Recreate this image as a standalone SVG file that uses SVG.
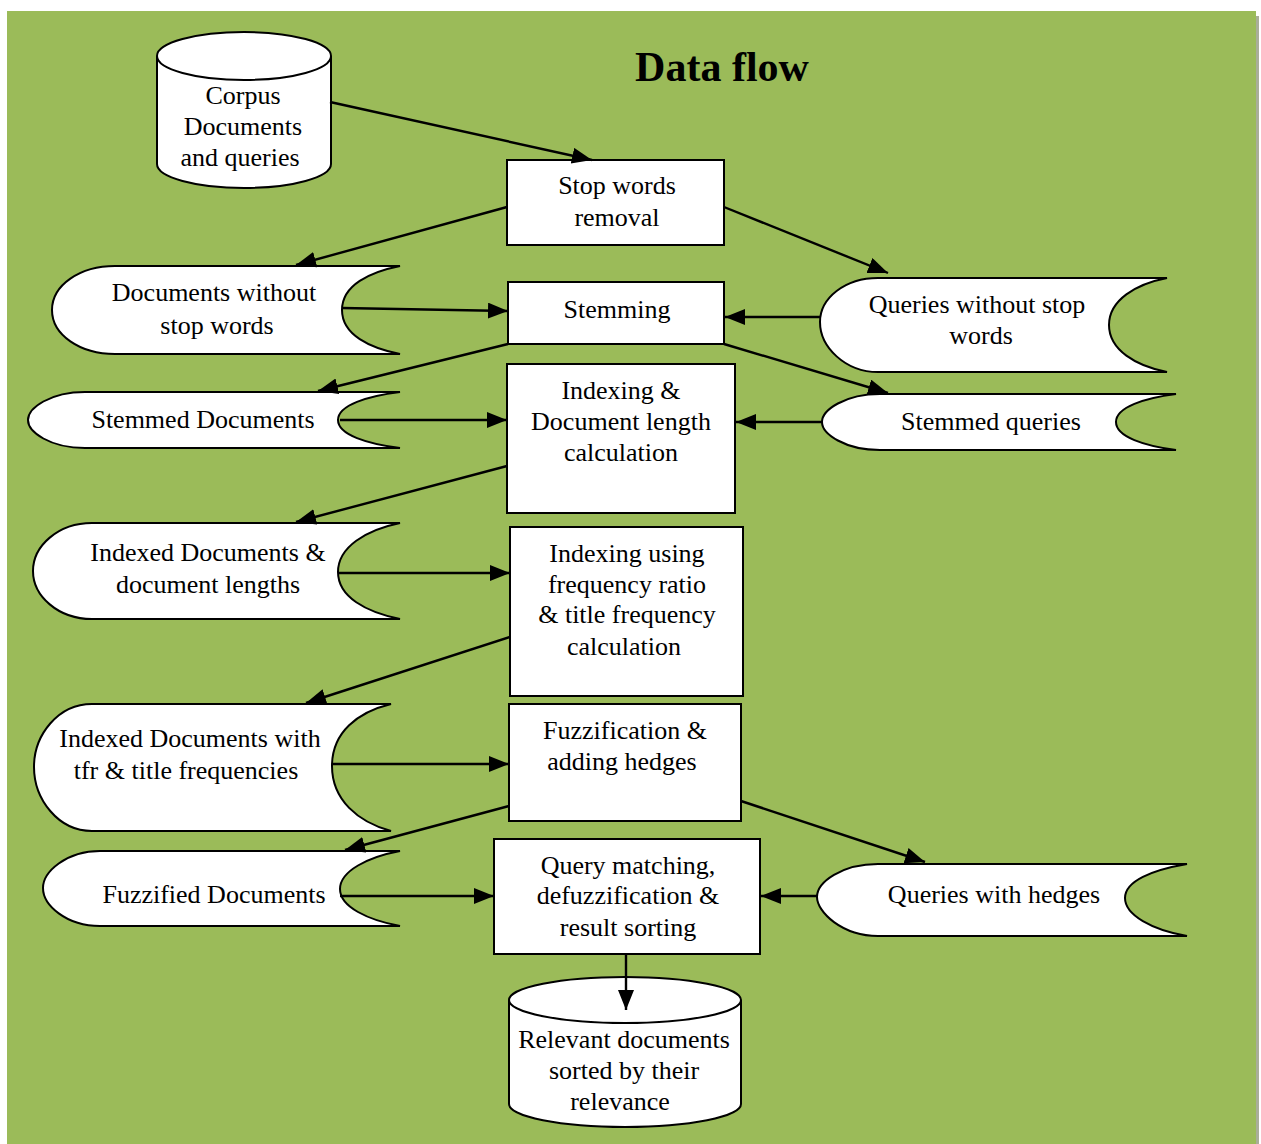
<svg xmlns="http://www.w3.org/2000/svg" width="1261" height="1144" viewBox="0 0 1261 1144">
<style>
.shape{fill:#ffffff;stroke:#000000;stroke-width:2}
.t{font-family:"Liberation Serif","Times New Roman",serif;font-size:26px;fill:#000000;text-anchor:middle}
.title{font-family:"Liberation Serif","Times New Roman",serif;font-size:42px;font-weight:bold;fill:#000000;text-anchor:middle}
.c{stroke:#000000;stroke-width:2.4;fill:none;marker-end:url(#ah)}
</style>
<defs>
<marker id="ah" markerUnits="userSpaceOnUse" markerWidth="22" markerHeight="18" refX="20" refY="8" orient="auto">
<path d="M0,0 L20,8 L0,16 Z" fill="#000000"/>
</marker>
</defs>
<rect x="1256" y="16" width="3" height="1128" fill="#A9AE98"/>
<rect x="7" y="11" width="1249" height="1133" fill="#9BBB59"/>
<text class="title" x="722" y="81">Data flow</text>

<g id="corpus">
<path class="shape" d="M157,56 A87,24 0 0 1 331,56 L331,164 A87,24 0 0 1 157,164 Z"/>
<path class="shape" d="M157,56 A87,24 0 0 0 331,56" fill="none"/>
<text class="t" x="243" y="104">Corpus</text>
<text class="t" x="243" y="135">Documents</text>
<text class="t" x="240" y="166">and queries</text>
</g>

<g id="stop-words-removal">
<rect class="shape" x="507" y="160" width="217" height="85"/>
<text class="t" x="617" y="194">Stop words</text>
<text class="t" x="617" y="226">removal</text>
</g>

<g id="docs-without-stop-words">
<path class="shape" d="M400,266 L115,266 C80,266 52,285 52,310 C52,335 80,354 115,354 L400,354 C370,348 342,335 342,310 C342,285 370,272 400,266 Z"/>
<text class="t" x="214" y="301">Documents without</text>
<text class="t" x="217" y="334">stop words</text>
</g>

<g id="stemming">
<rect class="shape" x="508" y="282" width="216" height="62"/>
<text class="t" x="617" y="318">Stemming</text>
</g>

<g id="queries-without-stop-words">
<path class="shape" d="M1167,278 L878,278 C845,278 820,298 820,322 C820,347 845,372 878,372 L1167,372 C1136,366 1109,350 1109,325 C1109,300 1136,284 1167,278 Z"/>
<text class="t" x="977" y="313">Queries without stop</text>
<text class="t" x="981" y="344">words</text>
</g>

<g id="stemmed-documents">
<path class="shape" d="M400,392 L85,392 C50,392 28,408 28,420 C28,432 50,448 85,448 L400,448 C368,444 338,435 338,420 C338,405 368,396 400,392 Z"/>
<text class="t" x="203" y="428">Stemmed Documents</text>
</g>

<g id="indexing-doc-length">
<rect class="shape" x="507" y="364" width="228" height="149"/>
<text class="t" x="621" y="399">Indexing &amp;</text>
<text class="t" x="621" y="430">Document length</text>
<text class="t" x="621" y="461">calculation</text>
</g>

<g id="stemmed-queries">
<path class="shape" d="M1176,394 L880,394 C845,394 822,410 822,422 C822,434 845,450 880,450 L1176,450 C1145,446 1116,437 1116,422 C1116,407 1145,398 1176,394 Z"/>
<text class="t" x="991" y="430">Stemmed queries</text>
</g>

<g id="indexed-documents">
<path class="shape" d="M400,523 L92,523 C58,523 33,546 33,571 C33,596 58,619 92,619 L400,619 C366,612 338,597 338,572 C338,547 366,530 400,523 Z"/>
<text class="t" x="208" y="561">Indexed Documents &amp;</text>
<text class="t" x="208" y="593">document lengths</text>
</g>

<g id="indexing-frequency">
<rect class="shape" x="510" y="527" width="233" height="169"/>
<text class="t" x="627" y="562">Indexing using</text>
<text class="t" x="627" y="593">frequency ratio</text>
<text class="t" x="627" y="623">&amp; title frequency</text>
<text class="t" x="624" y="655">calculation</text>
</g>

<g id="indexed-docs-tfr">
<path class="shape" d="M391,704 L92,704 C58,704 34,735 34,767 C34,799 58,831 92,831 L391,831 C358,822 332,800 332,766 C332,732 358,712 391,704 Z"/>
<text class="t" x="190" y="747">Indexed Documents with</text>
<text class="t" x="186" y="779">tfr &amp; title frequencies</text>
</g>

<g id="fuzzification">
<rect class="shape" x="509" y="704" width="232" height="117"/>
<text class="t" x="625" y="739">Fuzzification &amp;</text>
<text class="t" x="622" y="770">adding hedges</text>
</g>

<g id="fuzzified-documents">
<path class="shape" d="M400,851 L100,851 C66,851 43,872 43,888 C43,905 66,926 100,926 L400,926 C368,920 340,907 340,889 C340,871 368,857 400,851 Z"/>
<text class="t" x="214" y="903">Fuzzified Documents</text>
</g>

<g id="query-matching">
<rect class="shape" x="494" y="839" width="266" height="115"/>
<text class="t" x="628" y="874">Query matching,</text>
<text class="t" x="628" y="904">defuzzification &amp;</text>
<text class="t" x="628" y="936">result sorting</text>
</g>

<g id="queries-with-hedges">
<path class="shape" d="M1187,864 L878,864 C842,864 817,882 817,897 C817,912 842,936 878,936 L1187,936 C1152,930 1125,915 1125,898 C1125,881 1152,870 1187,864 Z"/>
<text class="t" x="994" y="903">Queries with hedges</text>
</g>

<g id="relevant-documents">
<path class="shape" d="M509,1000 A116,23 0 0 1 741,1000 L741,1104 A116,23 0 0 1 509,1104 Z"/>
<path class="shape" d="M509,1000 A116,23 0 0 0 741,1000" fill="none"/>
<text class="t" x="624" y="1048">Relevant documents</text>
<text class="t" x="624" y="1079">sorted by their</text>
<text class="t" x="620" y="1110">relevance</text>
</g>

<g id="connectors">
<line class="c" x1="330" y1="102" x2="592" y2="160"/>
<line class="c" x1="507" y1="207" x2="296" y2="265"/>
<line class="c" x1="724" y1="207" x2="888" y2="273"/>
<line class="c" x1="342" y1="308" x2="508" y2="311"/>
<line class="c" x1="820" y1="317" x2="725" y2="317"/>
<line class="c" x1="508" y1="344" x2="318" y2="391"/>
<line class="c" x1="724" y1="344" x2="888" y2="393"/>
<line class="c" x1="340" y1="420" x2="507" y2="420"/>
<line class="c" x1="822" y1="422" x2="736" y2="422"/>
<line class="c" x1="507" y1="466" x2="296" y2="522"/>
<line class="c" x1="338" y1="573" x2="510" y2="573"/>
<line class="c" x1="510" y1="637" x2="306" y2="703"/>
<line class="c" x1="332" y1="764" x2="509" y2="764"/>
<line class="c" x1="509" y1="806" x2="345" y2="850"/>
<line class="c" x1="741" y1="801" x2="925" y2="862"/>
<line class="c" x1="340" y1="896" x2="494" y2="896"/>
<line class="c" x1="817" y1="896" x2="761" y2="896"/>
<line class="c" x1="626" y1="955" x2="626" y2="1010"/>
</g>
</svg>
